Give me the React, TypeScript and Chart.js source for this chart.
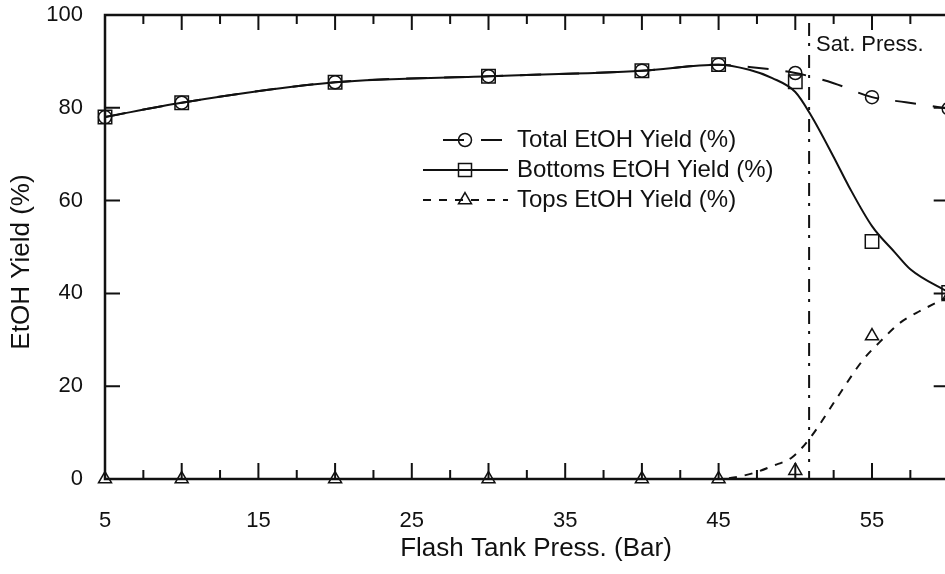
import { useEffect, useRef } from "react";
import { Chart, registerables } from "chart.js";

Chart.register(...registerables);

// Measured yields at each flash tank pressure (bar)
const pressures = [5, 10, 20, 30, 40, 45, 50, 55, 60];
const totalYield = [78, 81.1, 85.5, 86.8, 88, 89.3, 87.5, 82.3, 79.8];
const bottomsYield = [78, 81.1, 85.5, 86.8, 88, 89.3, 85.6, 51.2, 40.2];
const topsYield = [0, 0, 0, 0, 0, 0, 1.8, 30.8, 39.3];

// Smoothed trend curves
const totalCurveX = [5, 10, 20, 30, 40, 45, 47, 50, 52.5, 55, 57.2, 60];
const totalCurveY = [78, 81.1, 85.5, 86.8, 88, 89.3, 88.8, 87.5, 85.3, 82.3, 81.2, 79.8];
const bottomsCurveX = [5, 10, 20, 30, 40, 45, 47, 48.5, 50, 51, 52.5, 53.5, 55, 56.5, 57.5, 60];
const bottomsCurveY = [78, 81.1, 85.5, 86.8, 88, 89.3, 88.2, 86.4, 83.4, 78.5, 69.4, 63, 54.5, 48.8, 45.2, 40.2];
const topsCurveX = [5, 10, 20, 30, 40, 45, 46.1, 47.3, 48.5, 49.8, 51, 52.7, 54.4, 55.5, 56.8, 57.9, 60];
const topsCurveY = [0, 0, 0, 0, 0, 0, 0.4, 1.3, 2.8, 4.7, 9, 17.4, 25.6, 29.5, 33.6, 35.8, 39.3];

// Axis ticks
const xLabelTicks = [5, 15, 25, 35, 45, 55];
const xMajorTicks = [10, 15, 20, 25, 30, 35, 40, 45, 50, 55];
const xMinorTicks = [7.5, 12.5, 17.5, 22.5, 27.5, 32.5, 37.5, 42.5, 47.5, 52.5, 57.5];
const yLabelTicks = [0, 20, 40, 60, 80, 100];
const yInnerTicks = [20, 40, 60, 80];

const satPressure = 50.9;
const satLabel = "Sat. Press.";
const xTitle = "Flash Tank Press. (Bar)";
const yTitle = "EtOH Yield (%)";
const legendNames = ["Total EtOH Yield (%)", "Bottoms EtOH Yield (%)", "Tops EtOH Yield (%)"];

const FONT = "'Liberation Sans', Arial, Helvetica, sans-serif";
const INK = "#111";
const totalDash = [21, 17];
const topsDash = [8, 8];

const pts = (xs: number[], ys: number[]) => xs.map((x, i) => ({ x, y: ys[i] }));

function drawMarker(ctx: CanvasRenderingContext2D, kind: string, x: number, y: number) {
  ctx.beginPath();
  if (kind === "circle") {
    ctx.arc(x, y, 6.5, 0, Math.PI * 2);
  } else if (kind === "rect") {
    ctx.rect(x - 6.5, y - 6.5, 13, 13);
  } else {
    const r = 7.5;
    ctx.moveTo(x, y - r);
    ctx.lineTo(x + r * Math.sin((2 * Math.PI) / 3), y + r / 2);
    ctx.lineTo(x - r * Math.sin((2 * Math.PI) / 3), y + r / 2);
    ctx.closePath();
  }
  ctx.stroke();
}

const framePlugin = {
  id: "frame",
  afterDraw(chart: any) {
    const { ctx, chartArea: a, scales } = chart;
    const xs = scales.x;
    const ys = scales.y;
    ctx.save();
    ctx.strokeStyle = INK;
    ctx.fillStyle = INK;
    ctx.setLineDash([]);

    // plot box
    ctx.lineWidth = 2.5;
    ctx.strokeRect(a.left, a.top, a.right - a.left, a.bottom - a.top);

    // inward ticks on bottom and top
    ctx.lineWidth = 2;
    ctx.beginPath();
    for (const v of xMajorTicks) {
      const p = xs.getPixelForValue(v);
      ctx.moveTo(p, a.bottom);
      ctx.lineTo(p, a.bottom - 16);
      ctx.moveTo(p, a.top);
      ctx.lineTo(p, a.top + 15);
    }
    for (const v of xMinorTicks) {
      const p = xs.getPixelForValue(v);
      ctx.moveTo(p, a.bottom);
      ctx.lineTo(p, a.bottom - 9);
      ctx.moveTo(p, a.top);
      ctx.lineTo(p, a.top + 9);
    }
    // inward ticks on left and right
    for (const v of yInnerTicks) {
      const p = ys.getPixelForValue(v);
      ctx.moveTo(a.left, p);
      ctx.lineTo(a.left + 15, p);
      ctx.moveTo(a.right, p);
      ctx.lineTo(a.right - 15, p);
    }
    ctx.stroke();

    // saturation pressure marker
    const sx = xs.getPixelForValue(satPressure);
    ctx.lineWidth = 2;
    ctx.setLineDash([13, 7, 3, 9]);
    ctx.beginPath();
    ctx.moveTo(sx, a.top + 8);
    ctx.lineTo(sx, a.bottom);
    ctx.stroke();
    ctx.setLineDash([]);
    ctx.font = `22px ${FONT}`;
    ctx.textAlign = "left";
    ctx.textBaseline = "middle";
    ctx.fillText(satLabel, sx + 7, a.top + 30);

    // axis titles
    ctx.font = `26px ${FONT}`;
    ctx.textAlign = "center";
    ctx.textBaseline = "middle";
    ctx.fillText(xTitle, 536, 549);
    ctx.save();
    ctx.translate(22, 262);
    ctx.rotate(-Math.PI / 2);
    ctx.fillText(yTitle, 0, 0);
    ctx.restore();

    // legend
    const rows = [
      { name: legendNames[0], dash: totalDash, marker: "circle", y: 140 },
      { name: legendNames[1], dash: [] as number[], marker: "rect", y: 170 },
      { name: legendNames[2], dash: topsDash, marker: "triangle", y: 200 },
    ];
    ctx.font = `24px ${FONT}`;
    ctx.textAlign = "left";
    for (const r of rows) {
      ctx.lineWidth = 2;
      ctx.setLineDash(r.dash);
      ctx.beginPath();
      ctx.moveTo(r.dash === totalDash ? 443 : 423, r.y);
      ctx.lineTo(508, r.y);
      ctx.stroke();
      ctx.setLineDash([]);
      ctx.lineWidth = 1.5;
      drawMarker(ctx, r.marker, 465, r.y);
      ctx.fillText(r.name, 517, r.y);
    }
    ctx.restore();
  },
};

export default function App() {
  const ref = useRef<HTMLCanvasElement | null>(null);

  useEffect(() => {
    if (!ref.current) return;
    Chart.defaults.font.family = FONT;
    Chart.defaults.color = INK;
    const markerBase = {
      showLine: false,
      borderColor: INK,
      backgroundColor: "rgba(0,0,0,0)",
      pointBorderWidth: 1.5,
      pointBackgroundColor: "rgba(0,0,0,0)",
      pointBorderColor: INK,
      clip: false as const,
    };
    const curveBase = {
      borderColor: INK,
      borderWidth: 2,
      pointRadius: 0,
      fill: false,
      cubicInterpolationMode: "monotone" as const,
    };
    const chart = new Chart(ref.current, {
      type: "line",
      data: {
        datasets: [
          { ...curveBase, label: "Total curve", data: pts(totalCurveX, totalCurveY), borderDash: totalDash },
          { ...curveBase, label: "Bottoms curve", data: pts(bottomsCurveX, bottomsCurveY) },
          { ...curveBase, label: "Tops curve", data: pts(topsCurveX, topsCurveY), borderDash: topsDash },
          { ...markerBase, label: legendNames[0], data: pts(pressures, totalYield), pointStyle: "circle", pointRadius: 6.5 },
          { ...markerBase, label: legendNames[1], data: pts(pressures, bottomsYield), pointStyle: "rect", pointRadius: 9.5 },
          { ...markerBase, label: legendNames[2], data: pts(pressures, topsYield), pointStyle: "triangle", pointRadius: 7.5 },
        ],
      },
      options: {
        animation: false,
        responsive: false,
        devicePixelRatio: 1,
        layout: { padding: { top: 15, right: 21.3, left: 0, bottom: 0 } },
        plugins: { legend: { display: false }, tooltip: { enabled: false } },
        scales: {
          x: {
            type: "linear",
            min: 5,
            max: 60,
            grid: { display: false, drawTicks: false },
            border: { display: false },
            ticks: { font: { size: 22 }, padding: 29, color: INK },
            afterBuildTicks: (s: any) => {
              s.ticks = xLabelTicks.map((v) => ({ value: v }));
            },
            afterFit: (s: any) => {
              s.height = 95;
              s.paddingLeft = 0;
              s.paddingRight = 0;
            },
          },
          y: {
            min: 0,
            max: 100,
            grid: { display: false, drawTicks: false },
            border: { display: false },
            ticks: { font: { size: 22 }, padding: 22, color: INK },
            afterBuildTicks: (s: any) => {
              s.ticks = yLabelTicks.map((v) => ({ value: v }));
            },
            afterFit: (s: any) => {
              s.width = 105;
              s.paddingTop = 0;
              s.paddingBottom = 0;
            },
          },
        },
      },
      plugins: [framePlugin],
    });
    return () => chart.destroy();
  }, []);

  return (
    <div style={{ position: "fixed", left: 0, top: 0, width: 945, height: 574, overflow: "hidden", background: "#fff" }}>
      <canvas ref={ref} width={970} height={574} style={{ display: "block", width: 970, height: 574 }} />
    </div>
  );
}
